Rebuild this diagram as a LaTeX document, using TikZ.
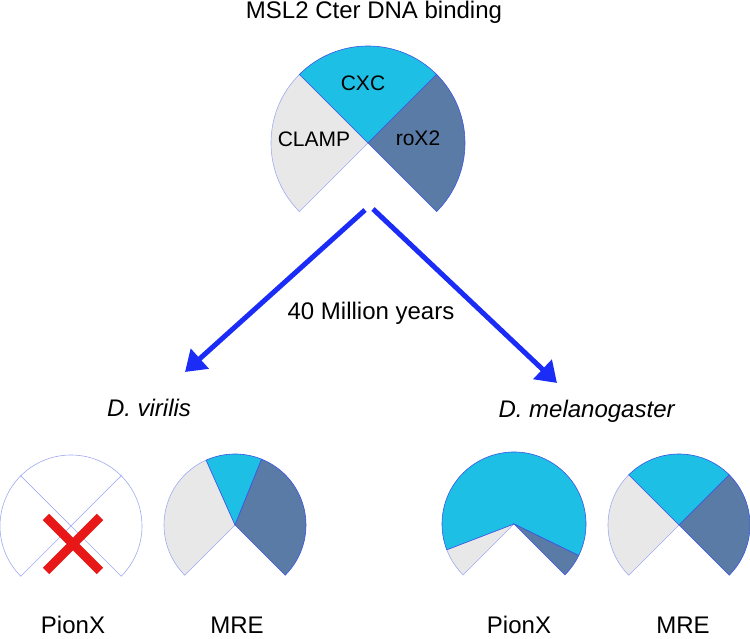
\documentclass[tikz,border=0pt]{standalone}
\usepackage{fontspec}
\setmainfont{Liberation Sans}
\usetikzlibrary{arrows.meta}
\definecolor{cxcblue}{HTML}{1EBFE5}
\definecolor{roxslate}{HTML}{5A7BA5}
\definecolor{clampgray}{HTML}{E8E8E8}
\definecolor{arrowblue}{HTML}{1A2CF5}
\definecolor{crossred}{HTML}{E81818}
\definecolor{rimblue}{HTML}{3B55E6}
\definecolor{rimlight}{HTML}{A0AAF2}

\begin{document}
\begin{tikzpicture}[x=1pt,y=1pt]
    \tikzstyle{every node}=[font=\fontsize{24}{28}\selectfont, inner sep=0pt, anchor=base]
    \tikzstyle{piename} = [font=\fontsize{21}{24}\selectfont]
    \tikzstyle{clamp} = [fill=clampgray, draw=rimlight, line width=0.6pt]
    \tikzstyle{cxc} = [fill=cxcblue, draw=rimblue, line width=0.6pt]
    \tikzstyle{rox} = [fill=roxslate, draw=rimblue, line width=0.6pt]
    \tikzstyle{nodata} = [fill=white, draw=rimlight, line width=0.6pt]
    \tikzstyle{evol} = [line width=5pt, draw=arrowblue, -{Triangle[length=20pt,width=26pt]}]
    \tikzstyle{cross} = [line width=9pt, draw=crossred]

    \useasboundingbox (0,0) rectangle (750,639);

    \node (title) at (374,620) {MSL2 Cter DNA binding};

    % ancestral binding
    \coordinate (anc) at (368,496);
    \filldraw[clamp] (anc) -- ++(135:97pt) arc (135:225:97pt) -- cycle;
    \filldraw[cxc] (anc) -- ++(45:97pt) arc (45:135:97pt) -- cycle;
    \filldraw[rox] (anc) -- ++(-45:97pt) arc (-45:45:97pt) -- cycle;
    \node[piename] (cxc) at (363,548) {CXC};
    \node[piename] (clamp) at (314,492) {CLAMP};
    \node[piename] (rox) at (418,493) {roX2};

    % divergence
    \coordinate (src-l) at (365,429);
    \coordinate (dst-l) at (185,267);
    \coordinate (src-r) at (373,430);
    \coordinate (dst-r) at (557,256);
    \draw[evol] (src-l) -- (dst-l);
    \draw[evol] (src-r) -- (dst-r);
    \node (time) at (371,319) {40 Million years};

    \node (vir) at (149,222) {\textit{D. virilis}};
    \node (mel) at (587,221) {\textit{D. melanogaster}};

    % D. virilis PionX
    \coordinate (vp) at (71,113);
    \filldraw[nodata] (vp) -- ++(135:71pt) arc (135:225:71pt) -- cycle;
    \filldraw[nodata] (vp) -- ++(45:71pt) arc (45:135:71pt) -- cycle;
    \filldraw[nodata] (vp) -- ++(-45:71pt) arc (-45:45:71pt) -- cycle;
    \coordinate (x) at (73,95);
    \draw[cross] (x) ++(-27,-27) -- ++(54,54) (x) ++(-27,27) -- ++(54,-54);

    % D. virilis MRE
    \coordinate (vm) at (235,114);
    \filldraw[clamp] (vm) -- ++(114:71pt) arc (114:225:71pt) -- cycle;
    \filldraw[cxc] (vm) -- ++(68:71pt) arc (68:114:71pt) -- cycle;
    \filldraw[rox] (vm) -- ++(-45:71pt) arc (-45:68:71pt) -- cycle;

    % D. melanogaster PionX
    \coordinate (mp) at (514,115);
    \filldraw[clamp] (mp) -- ++(201:72pt) arc (201:225:72pt) -- cycle;
    \filldraw[cxc] (mp) -- ++(-26:72pt) arc (-26:201:72pt) -- cycle;
    \filldraw[rox] (mp) -- ++(-45:72pt) arc (-45:-26:72pt) -- cycle;

    % D. melanogaster MRE
    \coordinate (mm) at (679,114);
    \filldraw[clamp] (mm) -- ++(135:71pt) arc (135:225:71pt) -- cycle;
    \filldraw[cxc] (mm) -- ++(45:71pt) arc (45:135:71pt) -- cycle;
    \filldraw[rox] (mm) -- ++(-45:71pt) arc (-45:45:71pt) -- cycle;

    \node (vp-name) at (73,5) {PionX};
    \node (vm-name) at (237,5) {MRE};
    \node (mp-name) at (519,5) {PionX};
    \node (mm-name) at (683,5) {MRE};
\end{tikzpicture}
\end{document}
